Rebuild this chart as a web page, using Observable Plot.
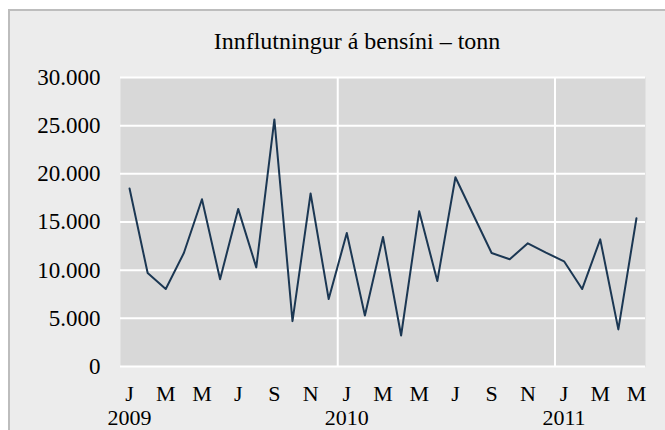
<!DOCTYPE html>
<html>
<head>
<meta charset="utf-8">
<script src="https://cdn.jsdelivr.net/npm/d3@7"></script>
<script src="https://cdn.jsdelivr.net/npm/@observablehq/plot@0.6"></script>
<style>
  html, body { margin: 0; padding: 0; background: #ffffff; }
  #frame { position: absolute; left: 8px; top: 9px; width: 700px; height: 460px;
           border-left: 2px solid #bdbdbd; border-top: 2px solid #bdbdbd; background: #ececec; }
  #title { position: absolute; left: 0; top: 29px; width: 714px; text-align: center;
           font-family: "Liberation Serif", serif; font-size: 24px; line-height: 24px; color: #000; }
  #chart { position: absolute; left: 0; top: 0; }
  body { width: 665px; height: 430px; overflow: hidden; position: relative; }
</style>
</head>
<body>
<div id="frame"></div>
<div id="chart"></div>
<div id="title">Innflutningur á bensíni – tonn</div>
<script>
const titleText = "Innflutningur á bensíni – tonn";
const monthLetters = ["J","F","M","A","M","J","J","A","S","O","N","D"];
const years = [2009,2009,2009,2009,2009,2009,2009,2009,2009,2009,2009,2009,
               2010,2010,2010,2010,2010,2010,2010,2010,2010,2010,2010,2010,
               2011,2011,2011,2011,2011];
const monthIndex = [0,1,2,3,4,5,6,7,8,9,10,11,0,1,2,3,4,5,6,7,8,9,10,11,0,1,2,3,4];
const tonnes = [18480, 9700, 8040, 11780, 17360, 9050, 16360, 10290, 25650, 4710, 17960, 7000,
                13860, 5300, 13450, 3220, 16120, 8870, 19650, 15700, 11780, 11130, 12790, 11820,
                10920, 8040, 13200, 3850, 15390];
const yTicks = [0, 5000, 10000, 15000, 20000, 25000, 30000];

const data = tonnes.map((v, i) => ({i, value: v, year: years[i], month: monthIndex[i]}));
const monthTicks = data.filter(d => d.month % 2 === 0).map(d => d.i);
const yearTicks = data.filter(d => d.month === 0).map(d => d.i);
const yearBounds = data.filter((d, k) => k > 0 && d.year !== data[k - 1].year).map(d => d.i - 0.5);
const fmt = v => v === 0 ? "0" : d3.format(",")(v).replace(/,/g, ".");

const chart = Plot.plot({
  width: 665,
  height: 430,
  marginLeft: 120,
  marginRight: 20,
  marginTop: 77,
  marginBottom: 64,
  style: { fontFamily: "Liberation Serif, serif", fontSize: "23px", background: "transparent", color: "#000", overflow: "visible" },
  x: { type: "linear", domain: [-0.5, data.length - 0.5], axis: null },
  y: { domain: [0, 30000], axis: null },
  marks: [
    Plot.frame({ fill: "#d8d8d8", stroke: null }),
    Plot.ruleY(yTicks, { stroke: "#ffffff", strokeWidth: 2 }),
    Plot.ruleX(yearBounds, { stroke: "#ffffff", strokeWidth: 2 }),
    Plot.axisY(yTicks, { tickSize: 0, tickPadding: 20, tickFormat: fmt, fill: "#000", label: null }),
    Plot.axisX(monthTicks, { tickSize: 0, tickPadding: 18.5, fontSize: 22, tickFormat: i => monthLetters[monthIndex[i]], fill: "#000", label: null }),
    Plot.axisX(yearTicks, { tickSize: 0, tickPadding: 43, fontSize: 22, tickFormat: i => String(years[i]), fill: "#000", label: null }),
    Plot.line(data, { x: "i", y: "value", stroke: "#1b3753", strokeWidth: 2 })
  ]
});
document.getElementById("chart").appendChild(chart);
</script>
</body>
</html>
